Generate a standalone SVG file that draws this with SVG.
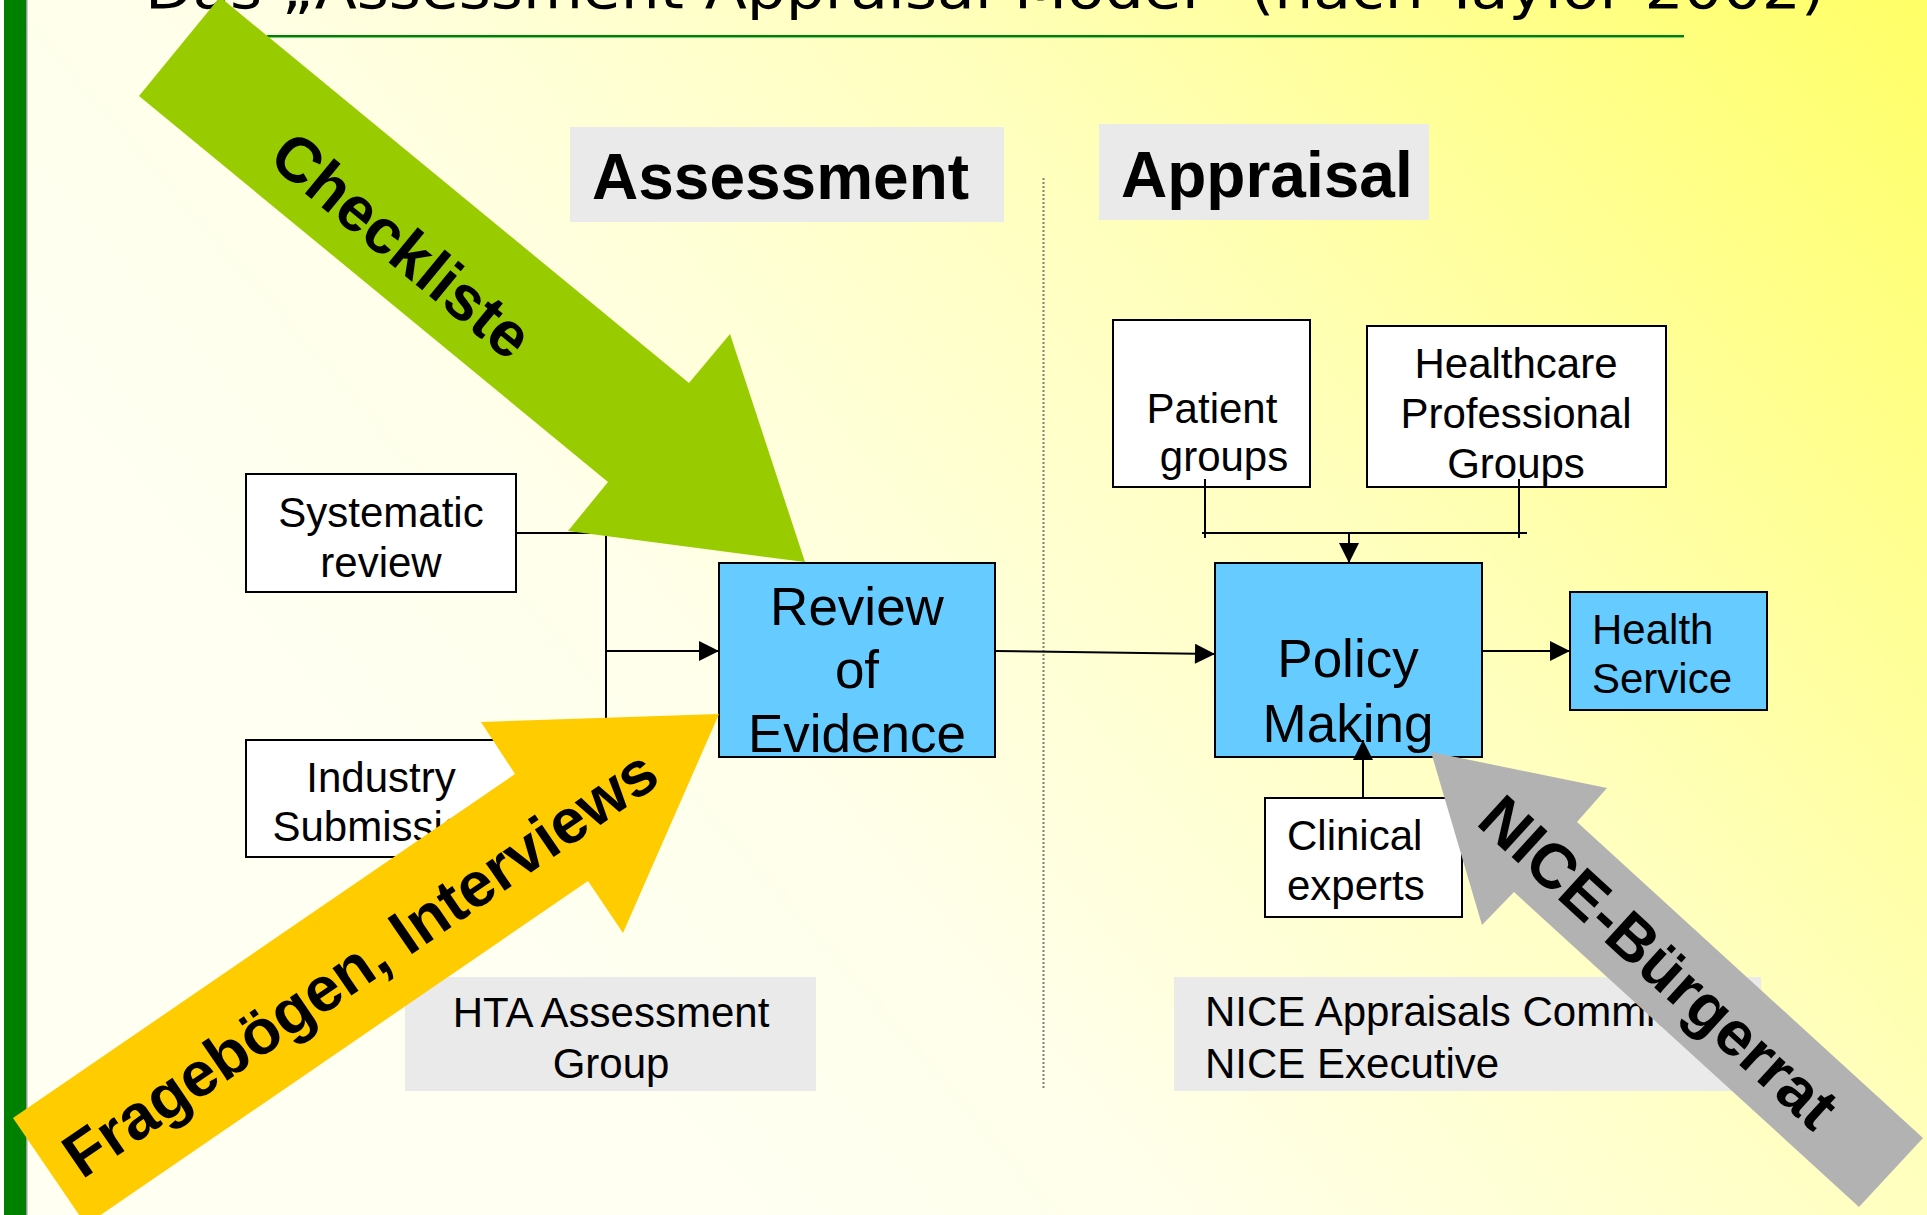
<svg xmlns="http://www.w3.org/2000/svg" width="1927" height="1215" viewBox="0 0 1927 1215">
<defs>
<linearGradient id="bg" gradientUnits="userSpaceOnUse" x1="1927" y1="0" x2="650" y2="1100">
<stop offset="0" stop-color="#FFFF66"/>
<stop offset="0.45" stop-color="#FFFFBC"/>
<stop offset="0.8" stop-color="#FFFFEA"/>
<stop offset="1" stop-color="#FFFFF2"/>
</linearGradient>
<marker id="ah" viewBox="0 0 20 20" markerWidth="21" markerHeight="20" refX="20" refY="10" orient="auto" markerUnits="userSpaceOnUse">
<path d="M0,0 L20,10 L0,20 z" fill="#000"/>
</marker>
<style>
.box{fill:#fff;stroke:#000;stroke-width:2}
.blue{fill:#66CCFF;stroke:#000;stroke-width:2}
.lab{fill:#EAEAEA}
.t{font-family:"Liberation Sans",Arial,sans-serif;font-size:42px;fill:#000}
.tc{text-anchor:middle}
.big{font-size:53px}
.head{font-family:"Liberation Sans",Arial,sans-serif;font-size:64px;font-weight:bold;fill:#000}
.arr{font-family:"Liberation Sans",Arial,sans-serif;font-size:63px;font-weight:bold;fill:#000;text-anchor:middle}
.ln{fill:none;stroke:#000;stroke-width:2}
</style>
</defs>
<rect x="0" y="0" width="1927" height="1215" fill="url(#bg)"/>
<rect x="0" y="0" width="4" height="1215" fill="#fff"/>
<rect x="4" y="0" width="22" height="1215" fill="#008000"/>
<rect x="26" y="0" width="1.5" height="1215" fill="#999"/>
<g id="title">
<text x="145" y="8" font-family="DejaVu Sans, sans-serif" font-size="56" textLength="1680" lengthAdjust="spacingAndGlyphs" fill="#000">Das „Assessment-Appraisal-Model“ (nach Taylor 2002)</text>
<rect x="267" y="35" width="1417" height="2" fill="#008000"/>
<rect x="267" y="37" width="1417" height="1" fill="#7FC77F"/>
</g>
<line x1="1043.5" y1="178" x2="1043.5" y2="1090" stroke="#808080" stroke-width="2" stroke-dasharray="2 2"/>
<g id="assessment-label"><rect class="lab" x="570" y="127" width="434" height="95"/><text class="head" x="592" y="199">Assessment</text></g>
<g id="appraisal-label"><rect class="lab" x="1099" y="124" width="330" height="96"/><text class="head" x="1121" y="197">Appraisal</text></g>
<g id="systematic-review"><rect class="box" x="246" y="474" width="270" height="118"/><text class="t tc" x="381" y="527">Systematic</text><text class="t tc" x="381" y="577">review</text></g>
<g id="industry-submission"><rect class="box" x="246" y="740" width="270" height="117"/><text class="t tc" x="381" y="792">Industry</text><text class="t tc" x="381" y="841">Submission</text></g>
<g id="review-of-evidence"><rect class="blue" x="719" y="563" width="276" height="194"/><text class="t tc big" x="857" y="625">Review</text><text class="t tc big" x="857" y="688">of</text><text class="t tc big" x="857" y="752">Evidence</text></g>
<g id="policy-making"><rect class="blue" x="1215" y="563" width="267" height="194"/><text class="t tc big" x="1348" y="677">Policy</text><text class="t tc big" x="1348" y="742">Making</text></g>
<g id="health-service"><rect class="blue" x="1570" y="592" width="197" height="118"/><text class="t" x="1592" y="644">Health</text><text class="t" x="1592" y="693">Service</text></g>
<g id="patient-groups"><rect class="box" x="1113" y="320" width="197" height="167"/><text class="t tc" x="1212" y="423">Patient</text><text class="t tc" x="1224" y="471">groups</text></g>
<g id="healthcare-professional-groups"><rect class="box" x="1367" y="326" width="299" height="161"/><text class="t tc" x="1516" y="378">Healthcare</text><text class="t tc" x="1516" y="428">Professional</text><text class="t tc" x="1516" y="478">Groups</text></g>
<g id="clinical-experts"><rect class="box" x="1265" y="798" width="197" height="119"/><text class="t" x="1287" y="850">Clinical</text><text class="t" x="1287" y="900">experts</text></g>
<g id="hta-group"><rect class="lab" x="405" y="977" width="411" height="114"/><text class="t tc" x="611" y="1027">HTA Assessment</text><text class="t tc" x="611" y="1078">Group</text></g>
<g id="nice-group"><rect class="lab" x="1174" y="977" width="587" height="114"/><text class="t" x="1205" y="1026">NICE Appraisals Committee</text><text class="t" x="1205" y="1078">NICE Executive</text></g>
<g id="connectors">
<path class="ln" d="M516,533 H606 V798 H516"/>
<path class="ln" d="M606,651 H719" marker-end="url(#ah)"/>
<path class="ln" d="M995,651 L1215,654" marker-end="url(#ah)"/>
<path class="ln" d="M1205,479 V538 M1519,479 V538 M1202,533 H1527"/>
<path class="ln" d="M1349,533 V563" marker-end="url(#ah)"/>
<path class="ln" d="M1482,651 H1570" marker-end="url(#ah)"/>
<path class="ln" d="M1363,798 V740" marker-end="url(#ah)"/>
</g>
<g id="arrow-checkliste">
<polygon points="139,96 220,-3 689,383 730,334 805,562 568,531 608,482" fill="#99CC00"/>
<text class="arr" transform="translate(402,245) rotate(39.5)" y="22">Checkliste</text>
</g>
<g id="arrow-frageboegen">
<polygon points="13,1118 515,774 481,722 719,714 623,933 588,881 86,1225" fill="#FFCC00"/>
<text class="arr" transform="translate(360,963) rotate(-34.4)" y="22">Fragebögen, Interviews</text>
</g>
<g id="arrow-buergerrat">
<polygon points="1431,752 1607,788 1577,822 1923,1138 1859,1207 1514,892 1482,925" fill="#B2B2B2"/>
<text class="arr" transform="translate(1659,962) rotate(42.4)" y="22" font-size="62">NICE-Bürgerrat</text>
</g>
</svg>
